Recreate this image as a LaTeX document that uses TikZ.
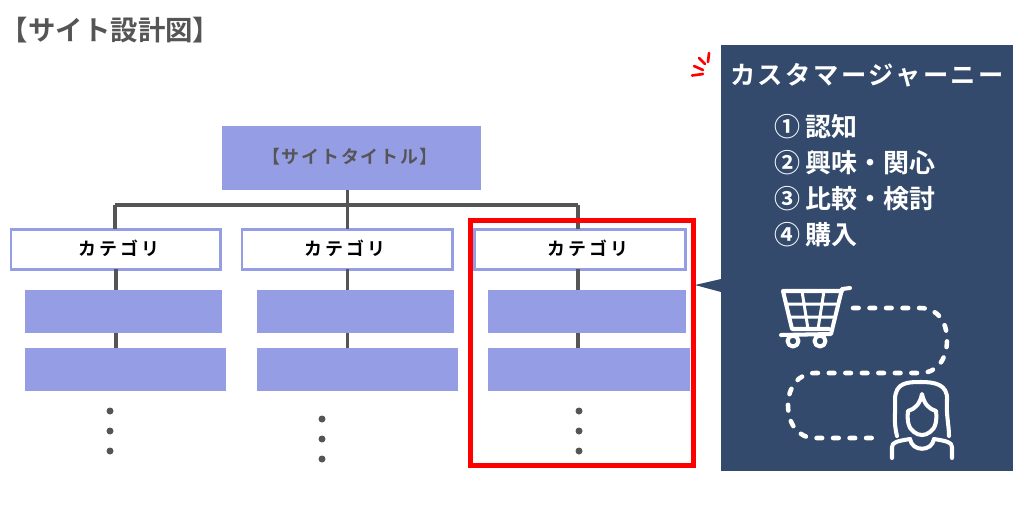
\documentclass[tikz,border=0pt]{standalone}
\usepackage{fontspec}
\usepackage{tikz}
\newfontfamily\jpfont[BoldFont={Noto Sans CJK JP Bold}]{Noto Sans CJK JP}
\newfontfamily\jpspaced[BoldFont={Noto Sans CJK JP Bold},LetterSpace=10]{Noto Sans CJK JP}
\newfontfamily\jpwide[BoldFont={Noto Sans CJK JP Bold},LetterSpace=18]{Noto Sans CJK JP}
\definecolor{bluefill}{HTML}{959DE5}
\definecolor{navyfill}{HTML}{334A6C}
\definecolor{darkline}{HTML}{555555}

\begin{document}
\begin{tikzpicture} [x=0.02cm, y=-0.02cm,
nodes={inner sep=0pt, outer sep=0pt, font=\jpfont\bfseries},
link/.style={draw=darkline, line width=1.9pt},
plainbox/.style={fill=bluefill, anchor=north west},
catbox/.style={draw=bluefill, fill=white, line width=1.7pt, minimum height=0.8cm, anchor=west},
catlabel/.style={font=\jpwide\bfseries\fontsize{10.2}{12}\selectfont, text=black},
listlabel/.style={anchor=west, text=white, font=\jpfont\bfseries\fontsize{14.8}{18}\selectfont},
dotmark/.style={circle, fill=darkline, minimum size=0.14cm},
icon/.style={draw=white, line width=2.3pt, line cap=round, line join=round}]
\useasboundingbox (0,0) rectangle (1024,512);

\node[anchor=west, text=darkline, font=\jpfont\bfseries\fontsize{15.6}{18}\selectfont] (heading) at (1,30) {【サイト設計図】};

\node[plainbox, minimum width=5.18cm, minimum height=1.28cm] (site) at (222,126) {};
\node[text=darkline, font=\jpspaced\bfseries\fontsize{10.2}{12}\selectfont] (sitelabel) at (350,157) {【サイトタイトル】};

\node[catbox, minimum width=4.2cm] (cat1) at (11,249) {};
\node[catbox, minimum width=4.22cm] (cat2) at (242,249) {};
\node[catbox, minimum width=4.24cm] (cat3) at (474,249) {};
\node[catlabel] (catlabel1) at (119,248) {カテゴリ};
\node[catlabel] (catlabel2) at (345,248) {カテゴリ};
\node[catlabel] (catlabel3) at (588,248) {カテゴリ};

% items below each category
\node[plainbox, minimum width=3.94cm, minimum height=0.86cm] (item1a) at (25,290) {};
\node[plainbox, minimum width=4.02cm, minimum height=0.86cm] (item1b) at (25,348) {};
\node[plainbox, minimum width=3.94cm, minimum height=0.86cm] (item2a) at (257,290) {};
\node[plainbox, minimum width=4.02cm, minimum height=0.86cm] (item2b) at (257,348) {};
\node[plainbox, minimum width=3.96cm, minimum height=0.86cm] (item3a) at (488,290) {};
\node[plainbox, minimum width=4.04cm, minimum height=0.86cm] (item3b) at (488,348) {};

% tree lines
\coordinate (barleft) at (115,205);
\coordinate (barright) at (578,205);
\draw[link] (barleft) -- (barright);
\draw[link] (barleft) -- (cat1.north -| barleft);
\draw[link] (barright) -- (cat3.north -| barright);
\draw[link] (site.south -| cat2.north) -- (cat2.north);
\draw[link] (cat1.south) -- (cat1.south |- item1a.north);
\draw[link] (cat1.south |- item1a.south) -- (cat1.south |- item1b.north);
\draw[link] (cat2.south) -- (cat2.south |- item2a.north);
\draw[link] (cat2.south |- item2a.south) -- (cat2.south |- item2b.north);
\draw[link] (barright |- cat3.south) -- (barright |- item3a.north);
\draw[link] (barright |- item3a.south) -- (barright |- item3b.north);

\foreach \y [count=\i] in {411,431,451} {
	\node[dotmark] (dota\i) at (110,\y) {};
	\node[dotmark] (dotc\i) at (579,\y) {};
}
\foreach \y [count=\i] in {419,439,459} {
	\node[dotmark] (dotb\i) at (322,\y) {};
}

\draw[red, line width=2.6pt] (470.5,220.5) rectangle (693.5,465.5);

% journey panel
\fill[navyfill] (721,45) rectangle (1013,471);
\fill[navyfill] (721,279) -- (695,285) -- (721,292) -- cycle;
\node[text=white, font=\jpspaced\bfseries\fontsize{14.4}{18}\selectfont] (journey) at (867,75) {カスタマージャーニー};
\node[listlabel] (step1) at (774,127) {① 認知};
\node[listlabel] (step2) at (774,163) {② 興味・関心};
\node[listlabel] (step3) at (774,199) {③ 比較・検討};
\node[listlabel] (step4) at (774,235) {④ 購入};

\draw[red, line width=1.5pt, line cap=round]
	(692,75.5) -- (703,74) (694,66) -- (703,70) (699,58) -- (705,64) (709,53) -- (708,62);

% cart
\draw[icon] (850,288) -- (842,289) -- (831,334) -- (781,335);
\draw[icon] (842,291) -- (783,291) -- (792,329) -- (829,329);
\draw[icon, line width=1.7pt] (802,291) -- (808,329) (824,291) -- (818,329)
	(786,304) -- (838,304) (790,317) -- (835,317);
\draw[icon] (793,341) circle[radius=5.5];
\draw[icon] (820,341) circle[radius=5.5];

% route
\draw[white, line width=2.6pt, line cap=round, dash pattern=on 3.2pt off 6.2pt]
	(853,308) -- (920,308) .. controls (938,308) and (947,322) .. (947,340)
	.. controls (947,358) and (938,373) .. (920,373) -- (815,373)
	.. controls (798,373) and (788,388) .. (788,405)
	.. controls (788,424) and (798,438) .. (815,438) -- (878,438);

% woman
\draw[icon] (897,436) .. controls (893,420) and (896,412) .. (895,400)
	.. controls (895,382) and (908,382) .. (921,382)
	.. controls (934,382) and (948,384) .. (947,400)
	.. controls (946,415) and (949,425) .. (949,436);
\draw[icon] (908,411) .. controls (915,409) and (920,404) .. (922,394)
	.. controls (924,404) and (929,409) .. (936,411)
	.. controls (937,420) and (936,428) .. (930,432)
	.. controls (925,436) and (919,436) .. (914,432)
	.. controls (908,428) and (907,420) .. (908,411) -- cycle;
\draw[icon] (892,458) -- (892,447) .. controls (892,442) and (898,441) .. (910,439);
\draw[icon] (952,458) -- (952,447) .. controls (952,442) and (946,441) .. (934,439);
\draw[icon] (910,439) .. controls (912,452) and (932,452) .. (934,439);
\end{tikzpicture}
\end{document}
